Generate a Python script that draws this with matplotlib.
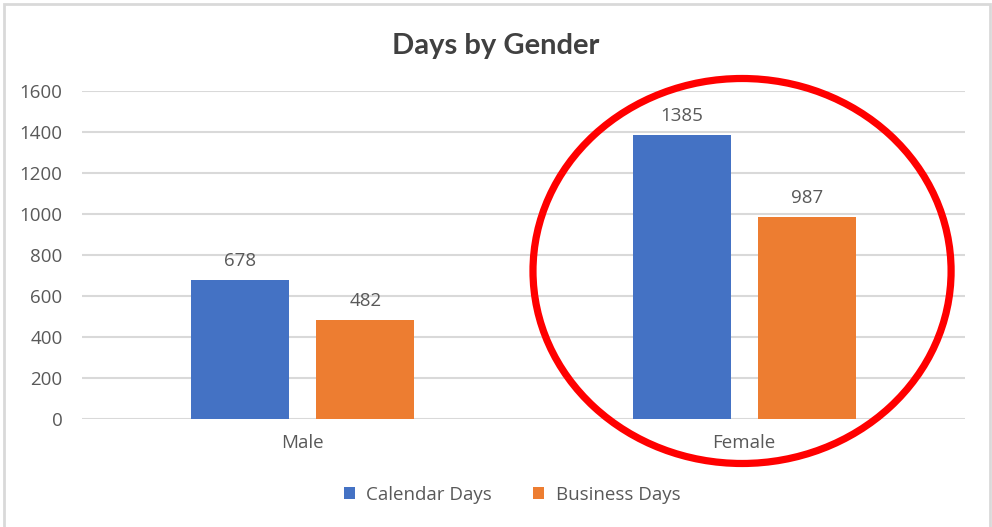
import matplotlib
matplotlib.use("Agg")
import matplotlib.pyplot as plt
from matplotlib.patches import Ellipse, Rectangle
import numpy as np

categories = ["Male", "Female"]
series_names = ["Calendar Days", "Business Days"]
calendar_days = [678, 1385]
business_days = [482, 987]
yticks = [0, 200, 400, 600, 800, 1000, 1200, 1400, 1600]

plt.rcParams['font.family'] = ['Open Sans', 'DejaVu Sans']
txt = '#595959'
fs = 13.5

fig = plt.figure(figsize=(9.92, 5.27), dpi=100)
ax = fig.add_axes([82/992, 1-419/527, (965-82)/992, (419-91)/527])

x = np.arange(len(categories))
w = 0.222
off = 0.1415
colors = ['#4472C4', '#ED7D31']
bars = []
for i, (vals, name, c) in enumerate(zip([calendar_days, business_days], series_names, colors)):
    b = ax.bar(x + (-off if i == 0 else off), vals, width=w, color=c, label=name, zorder=3)
    bars.append(b)
    for rect, v in zip(b, vals):
        ax.annotate(str(v), (rect.get_x() + rect.get_width()/2, v), xytext=(0, 7),
                    textcoords='offset points', ha='center', va='bottom',
                    fontsize=fs, color=txt)

ax.set_xlim(-0.5, 1.5)
ax.set_ylim(0, 1600)
ax.set_yticks(yticks)
ax.set_yticklabels([str(t) for t in yticks], fontsize=fs, color=txt)
ax.set_xticks(x)
ax.set_xticklabels(categories, fontsize=fs, color=txt)
ax.tick_params(axis='both', length=0)
ax.tick_params(axis='y', pad=14)
ax.tick_params(axis='x', pad=11)
ax.grid(axis='y', color='#D9D9D9', linewidth=1.5, zorder=0)
for s in ax.spines.values():
    s.set_visible(False)

fig.text(0.5, 1-46/527, "Days by Gender", ha='center', va='center',
         fontsize=21, fontweight='bold', color='#404040',
         family=['Lato', 'DejaVu Sans'])

leg = fig.legend(handles=bars, labels=series_names, loc='center',
                 bbox_to_anchor=(512/992, 1-495/527), ncol=2, frameon=False,
                 fontsize=fs, handlelength=0.6, handleheight=0.6,
                 columnspacing=2.2, handletextpad=0.6)
for t in leg.get_texts():
    t.set_color(txt)

# chart border
fig.patches.append(Rectangle((4/992, -0.01), (986/992), 1-4/527 + 0.01, transform=fig.transFigure,
                             fill=False, edgecolor='#D9D9D9', linewidth=2))

# red highlight ellipse
ell = Ellipse((0.995, 722), width=0.947, height=1878, transform=ax.transData,
              fill=False, edgecolor='#FF0000', linewidth=5.2, clip_on=False, zorder=5)
ax.add_patch(ell)

fig.savefig("out.png", dpi=100)
